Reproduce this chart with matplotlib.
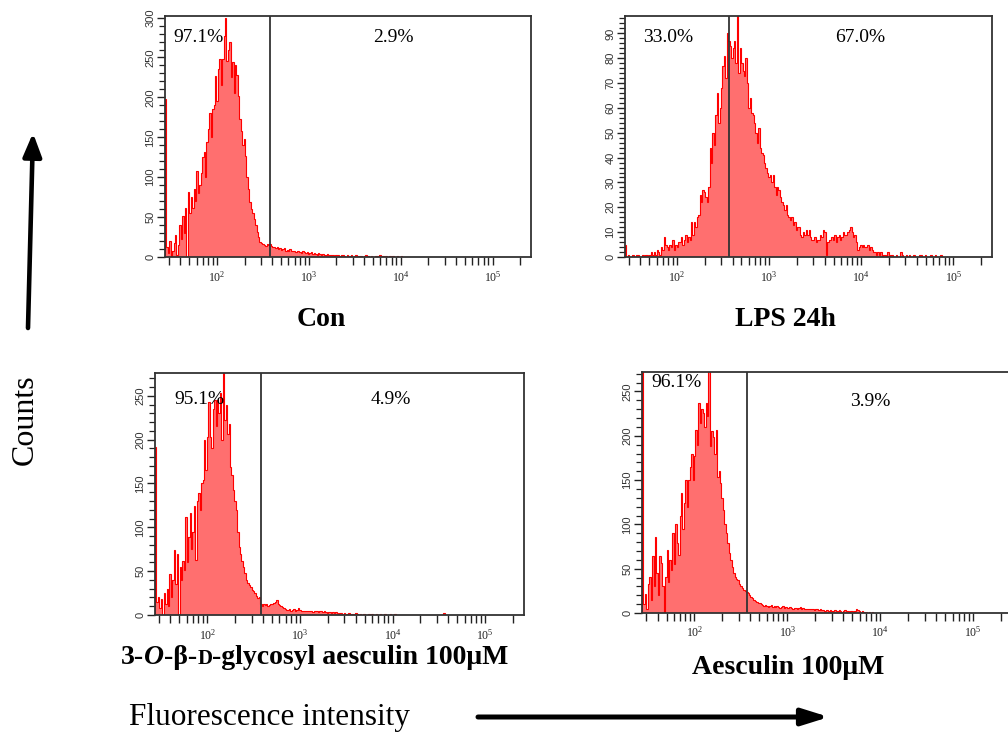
import numpy as np
import matplotlib
matplotlib.use("Agg")
import matplotlib.pyplot as plt
from matplotlib.ticker import LogLocator, MultipleLocator, NullFormatter
from matplotlib.patches import FancyArrowPatch
from matplotlib.offsetbox import TextArea, HPacker, AnnotationBbox

plt.rcParams['mathtext.fontset'] = 'custom'
plt.rcParams['mathtext.rm'] = 'Liberation Sans'
plt.rcParams['mathtext.it'] = 'Liberation Sans'
plt.rcParams['font.family'] = ['Liberation Serif', 'DejaVu Serif']

# ---------------- data (counts per channel, 256 log channels) ----------------
CH_MIN, CH_MAX, N_CH = 10 ** 1.435, 262144, 256

con_counts = [
    198,
    12, 5, 20, 0, 8, 18, 27, 3, 15, 40, 22, 52, 30, 62, 0,
    81, 55, 75, 62, 85, 70, 108, 80, 90,
    105, 125, 131, 100, 144, 160, 181, 150, 185, 190,
    227, 195, 235, 248, 215, 248, 277, 300, 245, 260, 269,
    225, 244, 205, 240, 228, 202, 173, 158, 140, 148, 127, 100, 85,
    69, 60, 55, 48, 40, 31, 25, 19, 17, 16, 15, 14, 16, 15,
    16, 14, 12, 13, 11, 12, 10, 11, 9, 10, 11, 8, 9, 8, 10, 7,
    8, 7, 6, 7, 8, 6, 5, 7, 6, 5, 6, 4, 5, 6, 4, 5,
    4, 3, 5, 4, 3, 4, 2, 3, 4, 3, 2, 3, 2, 1, 3, 2,
    2, 1, 2, 3, 1, 0, 2, 1, 1, 2, 0, 1, 2, 1, 0, 1,
    1, 0, 1, 2, 0, 1, 0, 1, 0, 0, 1, 1, 0, 2, 0, 1,
    0, 1, 0, 0, 1, 0, 1, 0, 0, 1, 0, 0, 1,
]

lps_counts = [
    5,
    0, 1, 0, 0, 1, 0, 0, 1, 1, 0, 0, 1, 0, 1, 1, 0, 1, 2, 1,
    2, 1, 3, 2, 1, 4, 3, 8, 5,
    4, 3, 5, 4, 7, 3, 5, 4, 6,
    6, 8, 5, 7, 9, 6, 8, 7, 14, 9,
    14, 12, 16, 17, 25, 22, 27, 26, 24, 22, 28,
    44, 38, 50, 45, 57, 66, 54, 60, 68, 77, 81, 72, 90, 87,
    85, 80, 84, 87, 78, 97, 74, 84, 78, 75, 73, 80, 70,
    60, 64, 58, 57, 54, 50, 46, 52, 44, 42, 41, 38, 36, 34, 32,
    33, 30, 33, 28, 25, 28, 27, 24, 22, 21, 19, 21, 17, 16,
    15, 16, 13, 14, 11, 12, 12, 9, 8, 10, 9, 11, 9, 11, 8, 7,
    7, 8, 6, 7, 7, 9, 8, 11, 10, 1, 6, 7,
    7, 8, 7, 9, 6, 8, 9, 7, 8, 10, 9, 9, 10, 11, 12, 10, 8, 9, 6, 3, 4, 5,
    4, 5, 4, 4, 5, 3, 4, 3, 2, 2, 1, 2, 1, 2, 0, 1,
    1, 0, 2, 0, 1, 1, 0, 0, 1, 0, 0, 2, 1, 0, 0, 1, 0, 1, 0, 0,
    1, 0, 0, 0, 1, 1, 0, 0, 1, 0, 0, 0, 1, 0, 0, 1, 0, 0, 0, 1,
]

glyco_counts = [
    192,
    15, 20, 8, 18, 0, 25, 12, 30, 10, 47, 20, 40, 74, 35, 70, 0,
    55, 40, 62, 51, 112, 60, 89, 116, 75, 95, 124, 63, 130,
    139, 120, 150, 154, 200, 165, 203, 243, 203, 190, 235,
    245, 215, 245, 230, 253, 200, 279, 222, 240, 207, 218,
    169, 160, 142, 130, 120, 95, 78, 70, 62, 55, 48, 40, 36, 34, 32, 28, 27, 25, 22, 19, 20,
    12, 10, 13, 11, 12, 10, 11, 13, 12, 14, 15, 17, 13, 11, 10, 9, 8, 7, 6, 6, 7, 5, 6, 7, 5, 6, 8, 6, 5, 4,
    5, 4, 5, 4, 4, 5, 3, 4, 5, 4, 3, 4, 4, 3, 4, 3, 2, 3, 3, 2, 3, 2, 3, 2, 1, 2, 2, 1, 2, 1,
    1, 2, 0, 1, 1, 0, 2, 1, 0, 1, 0, 1, 1, 0, 0, 1, 0, 1, 0, 0, 1, 0, 0, 1, 0, 0, 1, 0, 0, 0, 1, 0, 0, 1,
    0, 0, 0, 0, 0, 0, 0, 0, 0, 0, 0, 0, 0, 0, 0, 0, 0, 0, 0, 0, 0, 0, 0, 0, 0, 0, 0, 0, 0, 0, 0, 0, 0,
    2,
]

aesc_counts = [
    330,
    10, 22, 5, 33, 41, 15, 64, 30, 86, 45, 20, 64, 56, 30, 0,
    41, 71, 35, 60, 49, 90, 55, 101, 79, 65, 110, 135, 95,
    124, 150, 120, 150, 165, 180, 150, 177, 207, 190, 237, 215,
    230, 226, 210, 237, 222, 275, 188, 205, 199, 180, 207, 154,
    160, 147, 130, 116, 100, 90, 79, 68, 60, 52, 45, 41, 38, 37, 33, 30, 28, 26, 25, 24,
    23, 20, 18, 17, 15, 14, 12, 11, 11, 10, 9, 8, 9, 8, 7, 8, 9, 7, 8, 7, 8, 7, 6, 7, 8, 6, 7, 6, 6, 7,
    6, 5, 6, 6, 5, 6, 7, 5, 6, 5, 4, 5, 4, 5, 4, 4, 3, 4, 4, 3, 4, 3, 3, 2, 3, 3, 2, 3, 2, 2,
    3, 2, 2, 3, 2, 1, 2, 3, 2, 2, 1, 2, 2, 1, 2, 4, 3, 2, 1, 2, 1, 0, 1, 0, 1, 0, 1,
]

gates = [375, 367, 375, 372]
pct_left = ["97.1%", "33.0%", "95.1%", "96.1%"]
pct_right = ["2.9%", "67.0%", "4.9%", "3.9%"]
ymax = [302, 97, 276, 272]
y_major = [50, 10, 50, 50]
y_minor = [10, 2, 10, 10]

# ---------------- layout ----------------
W, H = 1008, 736
fig = plt.figure(figsize=(W / 100, H / 100), dpi=100)


def px_box(l, t, r, b):
    return [l / W, 1 - b / H, (r - l) / W, (b - t) / H]


def fpos(x, y):
    return (x / W, 1 - y / H)


overlay = fig.add_axes([0, 0, 1, 1])
overlay.axis('off')

boxes = [px_box(165, 16, 531, 257), px_box(625, 16, 992, 257),
         px_box(155, 373, 524, 615), px_box(642, 372, 1012, 613)]
pct_pos = [((198, 38), (393, 38)), ((668, 38), (860, 38)),
           ((199, 400), (391, 400)), ((676, 383), (870, 401))]

all_edges = np.logspace(np.log10(CH_MIN), np.log10(CH_MAX), N_CH + 1)
series = [con_counts, lps_counts, glyco_counts, aesc_counts]

FILL = '#FF6F6F'
LINE = '#FF0000'
FRAME = '#333333'

for k, counts in enumerate(series):
    ax = fig.add_axes(boxes[k])
    vals = np.asarray(counts, dtype=float)
    edges = all_edges[:len(vals) + 1]
    ax.stairs(vals, edges, fill=True, color=FILL, linewidth=0, baseline=0)
    ax.stairs(vals, edges, color=LINE, linewidth=0.8, baseline=0)
    ax.axvline(gates[k], color=FRAME, lw=1.3)
    ax.set_xscale('log')
    ax.set_xlim(CH_MIN, CH_MAX)
    ax.set_ylim(0, ymax[k])
    ax.xaxis.set_major_locator(LogLocator(base=10, numticks=12))
    ax.xaxis.set_minor_locator(LogLocator(base=10, subs=np.arange(2, 10), numticks=12))
    ax.xaxis.set_minor_formatter(NullFormatter())
    ax.yaxis.set_major_locator(MultipleLocator(y_major[k]))
    ax.yaxis.set_minor_locator(MultipleLocator(y_minor[k]))
    for s in ax.spines.values():
        s.set_color(FRAME)
        s.set_linewidth(1.3)
    ax.tick_params(axis='x', which='both', direction='out', length=6, width=1.0,
                   color='#222222', labelsize=8.5, pad=3, labelcolor='#222222')
    ax.tick_params(axis='y', which='major', direction='out', length=6, width=1.0,
                   color='#222222', labelsize=8, pad=1, labelrotation=90,
                   labelcolor='#333333')
    ax.tick_params(axis='y', which='minor', direction='out', length=4, width=0.9,
                   color='#222222')
    for lab in ax.get_yticklabels():
        lab.set_family('Liberation Sans')
        lab.set_va('center')
    (lx, ly), (rx, ry) = pct_pos[k]
    fig.text(*fpos(lx, ly), pct_left[k], ha='center', va='center', fontsize=14)
    fig.text(*fpos(rx, ry), pct_right[k], ha='center', va='center', fontsize=14)

# panel titles
fig.text(*fpos(321, 320), "Con", ha='center', va='center', fontsize=20, weight='bold')
fig.text(*fpos(785, 320), "LPS 24h", ha='center', va='center', fontsize=20, weight='bold')
fig.text(*fpos(788, 667), "Aesculin 100\u03bcM", ha='center', va='center',
         fontsize=20, weight='bold')

parts = [("3-", 'normal', 20), ("O", 'italic', 20), ("-\u03b2-", 'normal', 20),
         ("D", 'normal', 15), ("-glycosyl aesculin 100\u03bcM", 'normal', 20)]
children = [TextArea(s, textprops=dict(family='Liberation Serif', weight='bold',
                                        style=st, size=sz)) for s, st, sz in parts]
pack = HPacker(children=children, align='baseline', pad=0, sep=0)
ab = AnnotationBbox(pack, fpos(315, 657), xycoords='figure fraction', frameon=False,
                    box_alignment=(0.5, 0.5), pad=0)
overlay.add_artist(ab)

# axis captions and arrows
fig.text(*fpos(25, 420), "Counts", rotation=90, ha='center', va='center', fontsize=23)
fig.text(*fpos(269, 718), "Fluorescence intensity", ha='center', va='center', fontsize=22.5)

fig.add_artist(FancyArrowPatch(fpos(28, 328), fpos(33, 133), transform=fig.transFigure,
                               arrowstyle='-|>,head_length=0.7,head_width=0.28',
                               mutation_scale=20, lw=3.3, color='black', shrinkA=0, shrinkB=0))
fig.add_artist(FancyArrowPatch(fpos(478, 717), fpos(829, 717), transform=fig.transFigure,
                               arrowstyle='-|>,head_length=0.8,head_width=0.25',
                               mutation_scale=20, lw=3.6, color='black', shrinkA=0, shrinkB=0))

fig.savefig("out.png", dpi=100)
